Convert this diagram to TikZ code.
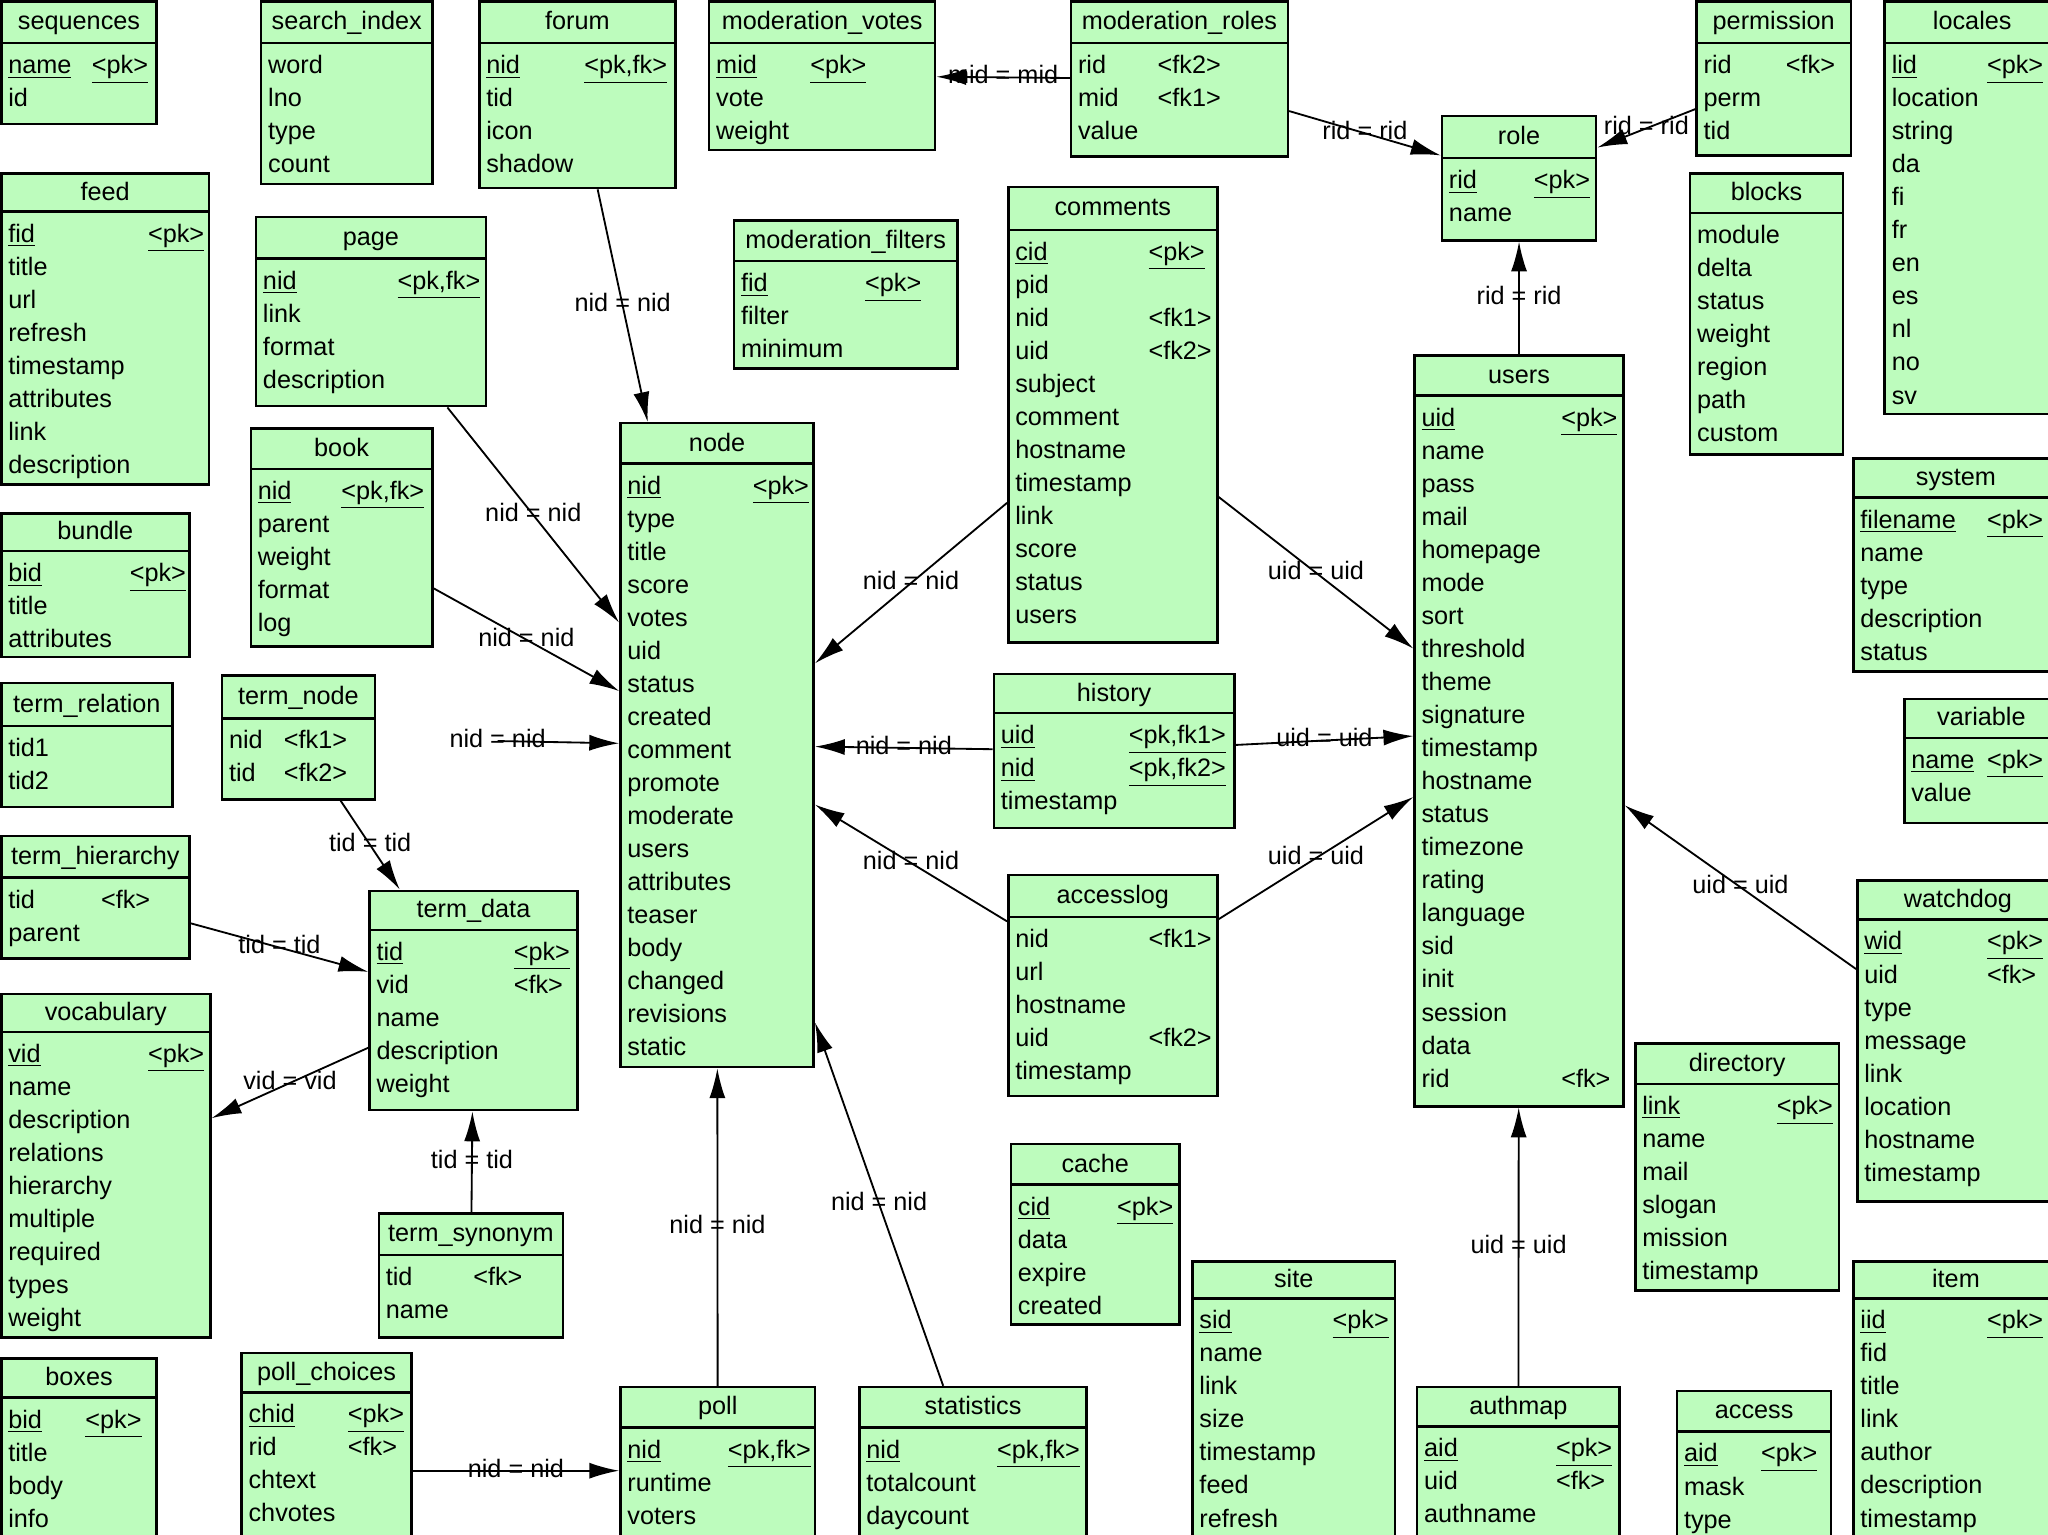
\documentclass[tikz,border=0pt]{standalone}
\usepackage{fontspec}
\setmainfont{Liberation Sans}
\usetikzlibrary{fit,arrows.meta,calc}
\definecolor{tgreen}{RGB}{189,252,189}
\tikzset{
  tbox/.style={draw=black, fill=tgreen, line width=1.1pt, inner sep=0pt},
  tsep/.style={draw=black, line width=1.1pt},
  ttitle/.style={inner sep=0pt, font=\fontsize{11}{13}\selectfont, text height=8pt, text depth=2.5pt},
  trow/.style={anchor=west, inner sep=0pt, font=\fontsize{11}{13}\selectfont, text height=8pt, text depth=2.5pt},
  rel/.style={draw=black, line width=0.8pt, -{Latex[length=13pt,width=7pt]}},
  lbl/.style={midway, inner sep=0pt, font=\fontsize{11}{13}\selectfont, text height=8pt, text depth=2.5pt}
}
\newcommand\tbl[9]{%
  \node[tbox, fit={(#2,#3) (#4,#5)}] (#1) {};
  \draw[tsep] (#2,#6) -- (#4,#6);
  \node[ttitle] (#1-title) at ({(#2+#4)/2},{(#3+#6)/2+1}) {#7};
  \foreach \ka/\kb/\kc [count=\ki] in {#9} {
    \node[trow] (#1-r\ki) at ({#2+5},{#6+18.5+(\ki-1)*25.3}) {\ifnum\kc=1 \underline{\ka}\else\ka\fi};
    \node[trow] (#1-a\ki) at ({#8},{#6+18.5+(\ki-1)*25.3}) {\ifnum\kc=1 \underline{\kb}\else\kb\fi};
  }%
}
\begin{document}
\begin{tikzpicture}[x=0.02cm,y=-0.02cm]
\useasboundingbox (0,0) rectangle (1568,1175);
\fill[white] (0,0) rectangle (1568,1175);
\clip (0,0) rectangle (1568,1175);

\tbl{sequences}{1}{1}{120}{95}{33}{sequences}{70}{name/<pk>/1, id//0}
\tbl{search}{200}{1}{331}{141}{33}{search\_index}{280}{word//0, lno//0, type//0, count//0}
\tbl{forum}{367}{1}{517}{144}{33}{forum}{447}{nid/{<pk,fk>}/1, tid//0, icon//0, shadow//0}
\tbl{modvotes}{543}{1}{716}{115}{33}{moderation\_votes}{620}{mid/<pk>/1, vote//0, weight//0}
\tbl{modroles}{820}{1}{986}{120}{33}{moderation\_roles}{886}{rid/<fk2>/0, mid/<fk1>/0, value//0}
\tbl{role}{1104}{89}{1222}{184}{121}{role}{1174}{rid/<pk>/1, name//0}
\tbl{permission}{1299}{1}{1417}{119}{33}{permission}{1367}{rid/<fk>/0, perm//0, tid//0}
\tbl{locales}{1443}{1}{1577}{317}{33}{locales}{1521}{lid/<pk>/1, location//0, string//0, da//0, fi//0, fr//0, en//0, es//0, nl//0, no//0, sv//0}
\tbl{feed}{1}{133}{160}{371}{162}{feed}{113}{fid/<pk>/1, title//0, url//0, refresh//0, timestamp//0, attributes//0, link//0, description//0}
\tbl{page}{196}{166}{372}{311}{198}{page}{304}{nid/{<pk,fk>}/1, link//0, format//0, description//0}
\tbl{book}{192}{328}{331}{495}{359}{book}{261}{nid/{<pk,fk>}/1, parent//0, weight//0, format//0, log//0}
\tbl{bundle}{1}{393}{145}{503}{422}{bundle}{99}{bid/<pk>/1, title//0, attributes//0}
\tbl{termrel}{1}{523}{132}{618}{556}{term\_relation}{90}{tid1//0, tid2//0}
\tbl{termnode}{170}{517}{287}{612}{550}{term\_node}{217}{nid/<fk1>/0, tid/<fk2>/0}
\tbl{termhier}{1}{640}{145}{734}{672}{term\_hierarchy}{77}{tid/<fk>/0, parent//0}
\tbl{termdata}{283}{682}{442}{850}{712}{term\_data}{393}{tid/<pk>/1, vid/<fk>/0, name//0, description//0, weight//0}
\tbl{vocab}{1}{761}{161}{1024}{790}{vocabulary}{113}{vid/<pk>/1, name//0, description//0, relations//0, hierarchy//0, multiple//0, required//0, types//0, weight//0}
\tbl{termsyn}{290}{929}{431}{1024}{961}{term\_synonym}{362}{tid/<fk>/0, name//0}
\tbl{boxes}{1}{1040}{120}{1200}{1070}{boxes}{65}{bid/<pk>/1, title//0, body//0, info//0}
\tbl{pollch}{185}{1036}{315}{1216}{1066}{poll\_choices}{266}{chid/<pk>/1, rid/<fk>/0, chtext//0, chvotes//0}
\tbl{nodeT}{475}{324}{623}{817}{355}{node}{576}{nid/<pk>/1, type//0, title//0, score//0, votes//0, uid//0, status//0, created//0, comment//0, promote//0, moderate//0, users//0, attributes//0, teaser//0, body//0, changed//0, revisions//0, static//0}
\tbl{modfilt}{562}{169}{733}{282}{200}{moderation\_filters}{662}{fid/<pk>/1, filter//0, minimum//0}
\tbl{comments}{772}{143}{932}{492}{176}{comments}{879}{cid/<pk>/1, pid//0, nid/<fk1>/0, uid/<fk2>/0, subject//0, comment//0, hostname//0, timestamp//0, link//0, score//0, status//0, users//0}
\tbl{history}{761}{516}{945}{634}{546}{history}{864}{uid/{<pk,fk1>}/1, nid/{<pk,fk2>}/1, timestamp//0}
\tbl{accesslog}{772}{670}{932}{839}{702}{accesslog}{879}{nid/<fk1>/0, url//0, hostname//0, uid/<fk2>/0, timestamp//0}
\tbl{cache}{774}{876}{903}{1014}{907}{cache}{855}{cid/<pk>/1, data//0, expire//0, created//0}
\tbl{poll}{475}{1062}{624}{1190}{1093}{poll}{557}{nid/{<pk,fk>}/1, runtime//0, voters//0}
\tbl{statistics}{658}{1062}{832}{1190}{1093}{statistics}{763}{nid/{<pk,fk>}/1, totalcount//0, daycount//0}
\tbl{site}{913}{966}{1068}{1200}{994}{site}{1020}{sid/<pk>/1, name//0, link//0, size//0, timestamp//0, feed//0, refresh//0}
\tbl{users}{1083}{272}{1243}{847}{303}{users}{1195}{uid/<pk>/1, name//0, pass//0, mail//0, homepage//0, mode//0, sort//0, threshold//0, theme//0, signature//0, timestamp//0, hostname//0, status//0, timezone//0, rating//0, language//0, sid//0, init//0, session//0, data//0, rid/<fk>/0}
\tbl{blocks}{1294}{133}{1411}{348}{163}{blocks}{1360}{module//0, delta//0, status//0, weight//0, region//0, path//0, custom//0}
\tbl{system}{1419}{351}{1576}{514}{381}{system}{1521}{filename/<pk>/1, name//0, type//0, description//0, status//0}
\tbl{variable}{1458}{535}{1576}{630}{565}{variable}{1521}{name/<pk>/1, value//0}
\tbl{watchdog}{1422}{674}{1576}{920}{704}{watchdog}{1521}{wid/<pk>/1, uid/<fk>/0, type//0, message//0, link//0, location//0, hostname//0, timestamp//0}
\tbl{directory}{1252}{799}{1408}{988}{830}{directory}{1360}{link/<pk>/1, name//0, mail//0, slogan//0, mission//0, timestamp//0}
\tbl{item}{1419}{966}{1576}{1200}{994}{item}{1521}{iid/<pk>/1, fid//0, title//0, link//0, author//0, description//0, timestamp//0}
\tbl{authmap}{1085}{1062}{1240}{1200}{1092}{authmap}{1191}{aid/<pk>/1, uid/<fk>/0, authname//0}
\tbl{access}{1284}{1065}{1402}{1200}{1096}{access}{1348}{aid/<pk>/1, mask//0, type//0}

% relationships
\draw[rel] (forum) -- (nodeT) node[lbl]{nid = nid};
\draw[rel] (page) -- (nodeT) node[lbl]{nid = nid};
\draw[rel] (book) -- (nodeT) node[lbl]{nid = nid};
\draw[rel, shorten <=1.86cm] (termnode) -- (nodeT) node[lbl]{nid = nid};
\draw[rel] (termnode) -- (termdata) node[lbl]{tid = tid};
\draw[rel] (termhier) -- (termdata) node[lbl]{tid = tid};
\draw[rel] (termdata) -- (vocab) node[lbl]{vid = vid};
\draw[rel] (termsyn) -- (termdata) node[lbl]{tid = tid};
\draw[rel] (comments) -- (nodeT) node[lbl]{nid = nid};
\draw[rel] (history) -- (nodeT) node[lbl]{nid = nid};
\draw[rel] (accesslog) -- (nodeT) node[lbl]{nid = nid};
\draw[rel] (poll) -- (nodeT) node[lbl]{nid = nid};
\draw[rel] (statistics) -- (nodeT) node[lbl]{nid = nid};
\draw[rel] (pollch) -- (poll) node[lbl]{nid = nid};
\draw[rel] (modroles) -- (modvotes) node[lbl]{mid = mid};
\draw[rel] (modroles) -- (role) node[lbl]{rid = rid};
\draw[rel] (permission) -- (role) node[lbl]{rid = rid};
\draw[rel] (users) -- (role) node[lbl]{rid = rid};
\draw[rel] (comments) -- (users) node[lbl]{uid = uid};
\draw[rel] (history) -- (users) node[lbl]{uid = uid};
\draw[rel] (accesslog) -- (users) node[lbl]{uid = uid};
\draw[rel] (watchdog) -- (users) node[lbl]{uid = uid};
\draw[rel] (authmap) -- (users) node[lbl]{uid = uid};
\end{tikzpicture}
\end{document}
